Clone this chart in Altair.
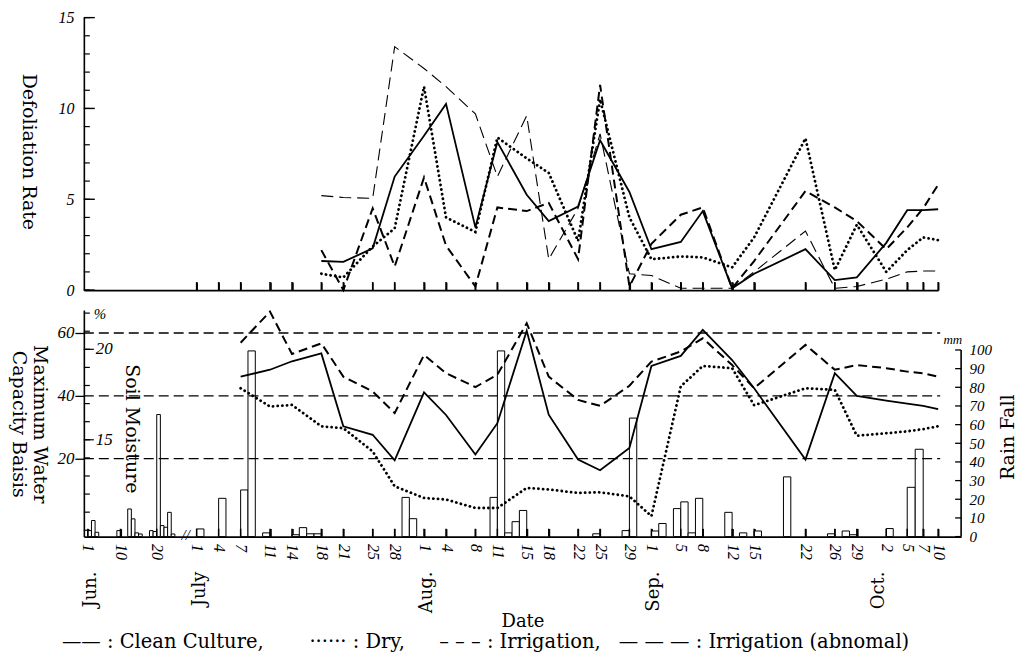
import altair as alt
import pandas as pd

YEAR = 1951

# ---------------- data ----------------
SERIES = ["Clean Culture", "Dry", "Irrigation", "Irrigation (abnomal)"]

# Defoliation rate
TOP_DATES = ["7/18", "7/21", "7/25", "7/28", "8/1", "8/4", "8/8", "8/11", "8/15", "8/18",
             "8/22", "8/25", "8/29", "9/1", "9/5", "9/8", "9/12", "9/15", "9/22", "9/26",
             "9/29", "10/2", "10/5", "10/7", "10/10"]
DEF_CLEAN = [1.6, 1.55, 2.3, 6.25, 8.5, 10.25, 3.45, 8.15, 5.25, 3.8, 4.6, 8.25, 5.4,
             2.25, 2.65, 4.35, 0.1, 0.9, 2.25, 0.55, 0.7, 2.6, 4.4, 4.4, 4.45]
DEF_DRY = [0.9, 0.7, 2.4, 3.4, 11.2, 4.0, 3.2, 8.4, 7.25, 6.45, 2.7, 10.5, 4.0,
           1.7, 1.85, 1.8, 1.25, 2.9, 8.35, 1.1, 3.6, 1.0, 2.2, 2.9, 2.75]
DEF_IRR = [2.2, 0.0, 4.5, 1.3, 6.2, 2.45, 0.2, 4.55, 4.35, 4.8, 1.7, 11.3, 0.2,
           2.55, 4.15, 4.55, 0.1, 1.6, 5.45, 4.55, 3.8, 2.25, 3.45, 4.5, 5.8]
DEF_ABN = [5.2, 5.1, 5.05, 13.4, 12.2, 11.2, 9.7, 6.25, 9.6, 1.7, 4.5, 8.6, 0.9,
           0.8, 0.1, 0.1, 0.1, 1.0, 3.25, 0.1, 0.2, 0.6, 1.0, 1.05, 1.05]

# Soil moisture (maximum water capacity basis, %)
SM_DATES = ["7/7", "7/11", "7/14", "7/18", "7/21", "7/25", "7/28", "8/1", "8/4", "8/8",
            "8/11", "8/15", "8/18", "8/22", "8/25", "8/29", "9/1", "9/5", "9/8", "9/12",
            "9/15", "9/22", "9/26", "9/29", "10/2", "10/5", "10/7", "10/10"]
SM_CLEAN = [46.1, 48.3, 51.0, 53.5, 30.3, 27.6, 19.5, 41.1, 33.9, 21.3, 31.3, 60.7, 34.0,
            19.7, 16.3, 23.4, 49.5, 52.7, 61.0, 51.4, 42.4, 19.7, 47.2, 40.0, 38.5, 37.5,
            36.8, 35.8]
SM_DRY = [42.4, 36.6, 37.1, 30.3, 29.7, 22.3, 11.2, 7.5, 7.0, 4.3, 4.3, 10.7, 10.2,
          9.1, 9.3, 8.0, 1.7, 43.0, 49.5, 48.8, 37.0, 42.4, 41.9, 27.3, 28.1, 28.7,
          29.4, 30.3]
SM_IRR = [56.9, 66.8, 53.3, 56.7, 46.1, 41.4, 34.5, 53.0, 47.2, 42.8, 46.7, 63.1, 46.1,
          38.7, 36.8, 43.2, 50.9, 54.1, 58.3, 49.8, 42.4, 56.2, 48.3, 49.8, 48.8, 47.7,
          47.2, 46.1]

# Daily rain fall (mm)
RAIN_DATES = ["6/1", "6/2", "6/3", "6/9", "6/12", "6/13", "6/14", "6/15", "6/18", "6/19",
              "6/20", "6/21", "6/22", "6/23", "6/24", "7/1", "7/4", "7/7", "7/8", "7/10",
              "7/14", "7/15", "7/16", "7/17", "7/29", "7/30", "8/10", "8/11", "8/12", "8/13",
              "8/14", "8/24", "8/28", "8/29", "9/1", "9/2", "9/4", "9/5", "9/6", "9/7",
              "9/11", "9/13", "9/15", "9/19", "9/25", "9/27", "9/28", "10/2", "10/5", "10/6"]
RAIN_MM = [3.2, 8.6, 2.3, 3.2, 14.8, 9.5, 2.0, 1.4, 3.2, 2.7,
           65.4, 5.9, 5.0, 13.0, 1.4, 4.1, 20.5, 25.0, 99.5, 2.0,
           1.0, 4.8, 1.5, 1.5, 21.0, 9.6, 21.0, 99.5, 2.0, 8.0,
           14.0, 1.5, 3.2, 63.5, 3.0, 7.0, 15.0, 18.6, 2.0, 20.5,
           13.0, 2.0, 3.0, 32.0, 1.5, 3.0, 1.0, 4.3, 26.4, 46.8]

# Axis texts
AXIS_DATES = ["6/1", "6/10", "6/20", "7/1", "7/4", "7/7", "7/11", "7/14", "7/18", "7/21",
              "7/25", "7/28", "8/1", "8/4", "8/8", "8/11", "8/15", "8/18", "8/22", "8/25",
              "8/29", "9/1", "9/5", "9/8", "9/12", "9/15", "9/22", "9/26", "9/29", "10/2",
              "10/5", "10/7", "10/10"]
TOP_TICK_DATES = AXIS_DATES[3:]
MONTHS = ["Jun.", "July", "Aug.", "Sep.", "Oct."]
MONTH_DATES = ["6/1", "7/1", "8/1", "9/1", "10/1"]
BREAK_DATE = ["6/28"]
REF_PCT = [20, 40, 60]
PCT_LABELS = [20, 40, 60]
TOP_LABELS = [0, 5, 10, 15]
TOP_MINOR = list(range(0, 16))
INNER_MINOR = list(range(10, 23))
INNER_LABELS = [15, 20]
RAIN_TICKS = [0, 10, 20, 30, 40, 50, 60, 70, 80, 90, 100]
LEGEND = ["\u2014\u2014 : Clean Culture,", "\u00b7\u00b7\u00b7\u00b7\u00b7\u00b7 : Dry,",
          "\u2013 \u2013 \u2013 : Irrigation,", "\u2014 \u2014 \u2014 : Irrigation (abnomal)"]

# ---------------- layout / style ----------------
W_TOP, W_BOT, H_TOP, H_BOT = 856, 879, 273, 227
X_DOMAIN_DAYS = [150.9, 182, 272, 275, 278, 280, 283, 286.1]   # hand-drawn date axis
X_RANGE_PX = [0, 113, 774.5, 804, 825, 841, 856, 879]
PCT_DOMAIN = [-4.8, 67.3]
INNER_DOMAIN = [9.65, 22.17]
RAIN_DOMAIN = [0, 121.4]
TICK_UP_TOP = 0.44      # length of the upward date ticks, in axis units
TICK_UP_PCT = 2.5
LEGEND_X = [-22, 226, 356, 536]
NUM_FONT = "Liberation Serif"
TEXT_FONT = "DejaVu Serif"

STYLE = {
    "Clean Culture": dict(color="black", strokeWidth=1.8),
    "Dry": dict(color="black", strokeWidth=2.8, strokeDash=[0.1, 4.6], strokeCap="round"),
    "Irrigation": dict(color="black", strokeWidth=2.0, strokeDash=[9, 5]),
    "Irrigation (abnomal)": dict(color="black", strokeWidth=1.1, strokeDash=[12, 6]),
}


def days(dates):
    out = []
    for s in dates:
        m, d = s.split("/")
        out.append(pd.Timestamp(YEAR, int(m), int(d)).dayofyear)
    return out


def long_df(dates, arrays, names):
    frames = [pd.DataFrame({"day": days(dates), "value": vals, "series": n})
              for n, vals in zip(names, arrays)]
    return pd.concat(frames, ignore_index=True)


top_df = long_df(TOP_DATES, [DEF_CLEAN, DEF_DRY, DEF_IRR, DEF_ABN], SERIES)
sm_df = long_df(SM_DATES, [SM_CLEAN, SM_DRY, SM_IRR], SERIES[:3])
rain_df = pd.DataFrame({"day": days(RAIN_DATES), "mm": RAIN_MM})

xs_top = alt.Scale(domain=X_DOMAIN_DAYS[:-1], range=X_RANGE_PX[:-1], nice=False, zero=False)
xs_bot = alt.Scale(domain=X_DOMAIN_DAYS, range=X_RANGE_PX, nice=False, zero=False)
ys_top = alt.Scale(domain=[0, 15], nice=False)
ys_pct = alt.Scale(domain=PCT_DOMAIN, nice=False, zero=False)
ys_inner = alt.Scale(domain=INNER_DOMAIN, nice=False, zero=False)
ys_rain = alt.Scale(domain=RAIN_DOMAIN, nice=False)

# ---------------- axes (the same object on every layer sharing a scale) ----------------
top_x_axis = alt.Axis(orient="top", offset=-H_TOP, values=days(TOP_TICK_DATES), labels=False,
                      ticks=True, tickSize=8, tickWidth=1.6, tickColor="black",
                      domain=True, domainColor="black", domainWidth=1.6, title=None, grid=False)
top_y_axis = alt.Axis(values=TOP_LABELS, ticks=False, labelPadding=10, labelFont=NUM_FONT,
                      labelFontStyle="italic", labelFontSize=16, labelColor="black",
                      domainColor="black", domainWidth=1.6, grid=False,
                      title="Defoliation Rate", titleFont=TEXT_FONT, titleFontSize=19,
                      titleFontWeight="normal", titleColor="black", titleAngle=90,
                      titleX=-55, titleY=134, titleAlign="center", titleBaseline="middle")
bot_x_axis = alt.Axis(values=days(AXIS_DATES), labelExpr=f"date(datetime({YEAR}, 0, datum.value))",
                      labelAngle=90, labelAlign="left", labelBaseline="middle", labelFont=NUM_FONT,
                      labelFontStyle="italic", labelFontSize=16, labelColor="black", labelPadding=7,
                      labelOverlap=False, labelFlush=False, labelBound=False, ticks=False,
                      domain=True, domainColor="black", domainWidth=1.6, grid=False,
                      title="Date", titleFont=TEXT_FONT, titleFontSize=18, titleFontWeight="normal",
                      titleColor="black", titleY=85, titleBaseline="middle")
bot_tick_axis = alt.Axis(orient="top", offset=-H_BOT, values=days(AXIS_DATES), labels=False,
                         ticks=True, tickSize=8, tickWidth=1.6, tickColor="black",
                         domain=False, title=None, grid=False)
pct_axis = alt.Axis(values=PCT_LABELS, tickSize=9, tickColor="black", tickWidth=1.3, labelPadding=1,
                    labelFont=NUM_FONT, labelFontStyle="italic", labelFontSize=17, labelColor="black",
                    domainColor="black", domainWidth=1.6, grid=False,
                    title=["Maximum Water", "Capacity Baisis"], titleFont=TEXT_FONT, titleFontSize=19,
                    titleFontWeight="normal", titleColor="black", titleAngle=90, titleX=-44,
                    titleY=114, titleAlign="center", titleBaseline="middle", titleLineHeight=21)
rain_axis = alt.Axis(orient="right", values=RAIN_TICKS, ticks=False, domain=False, grid=False,
                     labelPadding=8, labelFont=NUM_FONT, labelFontStyle="italic",
                     labelFontSize=15, labelColor="black",
                     title="Rain Fall", titleFont=TEXT_FONT, titleFontSize=19,
                     titleFontWeight="normal", titleColor="black", titleAngle=270,
                     titleX=46, titleY=127, titleAlign="center", titleBaseline="middle")


def X(scale, axis):
    return alt.X("day:Q", scale=scale, axis=axis)


def Y(field, scale, axis):
    return alt.Y(field, scale=scale, axis=axis)


# ---------------- top panel ----------------
top_layers = []
for name in ["Irrigation (abnomal)", "Irrigation", "Dry", "Clean Culture"]:
    top_layers.append(
        alt.Chart(top_df).transform_filter(alt.datum.series == name)
        .mark_line(**STYLE[name])
        .encode(x=X(xs_top, top_x_axis), y=Y("value:Q", ys_top, top_y_axis))
    )

top_minor = alt.Chart(pd.DataFrame({"value": TOP_MINOR})).mark_rule(color="black", strokeWidth=1.2).encode(
    y=Y("value:Q", ys_top, top_y_axis), x=alt.value(0), x2=alt.value(6))
top_major = alt.Chart(pd.DataFrame({"value": TOP_LABELS})).mark_rule(color="black", strokeWidth=1.4).encode(
    y=Y("value:Q", ys_top, top_y_axis), x=alt.value(0), x2=alt.value(11))
top_xt = alt.Chart(pd.DataFrame({"day": days(TOP_TICK_DATES)})).mark_rule(
    color="black", strokeWidth=1.5).encode(
    x=X(xs_top, top_x_axis),
    y=alt.YDatum(0, scale=ys_top, axis=top_y_axis),
    y2=alt.Y2Datum(TICK_UP_TOP))

top = alt.layer(*top_layers, top_minor, top_major, top_xt).properties(width=W_TOP, height=H_TOP)

# ---------------- bottom panel ----------------
bars = alt.Chart(rain_df).transform_calculate(day_end="datum.day + 1").mark_bar(
    fill="white", stroke="black", strokeWidth=1.0).encode(
    x=X(xs_bot, None), x2="day_end:Q",
    y=Y("mm:Q", ys_rain, rain_axis), y2=alt.datum(0))
rain_t = alt.Chart(pd.DataFrame({"mm": RAIN_TICKS})).mark_rule(color="black", strokeWidth=1.3).encode(
    y=Y("mm:Q", ys_rain, rain_axis), x=alt.value(W_BOT - 6), x2=alt.value(W_BOT))
rain_line = alt.Chart(pd.DataFrame({"mm": [RAIN_TICKS[0]], "hi": [RAIN_TICKS[-1]]})).mark_rule(
    color="black", strokeWidth=1.6).encode(
    y=Y("mm:Q", ys_rain, rain_axis), y2="hi:Q", x=alt.value(W_BOT))
mm_text = alt.Chart(pd.DataFrame({"t": ["mm"]})).mark_text(
    font=NUM_FONT, fontStyle="italic", fontSize=13, align="right", baseline="middle").encode(
    text="t:N", x=alt.value(W_BOT + 1), y=alt.value(30))
rain_layer = alt.layer(bars, rain_t, rain_line, mm_text)

refs = alt.Chart(pd.DataFrame({"value": REF_PCT})).mark_rule(
    color="black", strokeWidth=1.3, strokeDash=[10, 5]).encode(
    y=Y("value:Q", ys_pct, pct_axis), x=alt.value(0), x2=alt.value(858))

sm_layers = []
for name in ["Irrigation", "Dry", "Clean Culture"]:
    sm_layers.append(
        alt.Chart(sm_df).transform_filter(alt.datum.series == name)
        .mark_line(**STYLE[name])
        .encode(x=X(xs_bot, bot_x_axis), y=Y("value:Q", ys_pct, pct_axis))
    )

bot_xt = alt.Chart(pd.DataFrame({"day": days(AXIS_DATES)})).mark_rule(
    color="black", strokeWidth=1.5).encode(
    x=X(xs_bot, bot_x_axis),
    y=alt.YDatum(PCT_DOMAIN[0], scale=ys_pct, axis=pct_axis),
    y2=alt.Y2Datum(PCT_DOMAIN[0] + TICK_UP_PCT))
months = alt.Chart(pd.DataFrame({"day": days(MONTH_DATES), "m": MONTHS})).mark_text(
    font=TEXT_FONT, fontSize=18, angle=270, align="right", baseline="middle", dy=3).encode(
    x=X(xs_bot, bot_x_axis), y=alt.value(H_BOT + 35), text="m:N")
brk = alt.Chart(pd.DataFrame({"day": days(BREAK_DATE), "t": ["//"]})).mark_text(
    font=NUM_FONT, fontStyle="italic", fontSize=15, baseline="middle").encode(
    x=X(xs_bot, bot_x_axis), y=alt.value(H_BOT - 2), text="t:N")
pct_sign = alt.Chart(pd.DataFrame({"t": ["%"]})).mark_text(
    font=NUM_FONT, fontStyle="italic", fontSize=15, align="left", baseline="middle").encode(
    text="t:N", x=alt.value(10), y=alt.value(4))
soil = alt.Chart(pd.DataFrame({"t": ["Soil Moisture"]})).mark_text(
    font=TEXT_FONT, fontSize=19, angle=90, align="center", baseline="middle").encode(
    text="t:N", x=alt.value(48), y=alt.value(119))
legend_layers = [
    alt.Chart(pd.DataFrame({"t": [txt]})).mark_text(
        font=TEXT_FONT, fontSize=19.5, align="left", baseline="middle").encode(
        text="t:N", x=alt.value(lx), y=alt.value(H_BOT + 106))
    for txt, lx in zip(LEGEND, LEGEND_X)
]
pct_layer = alt.layer(refs, *sm_layers, bot_xt, months, brk, pct_sign, soil, *legend_layers)

inner_minor = alt.Chart(pd.DataFrame({"v": INNER_MINOR})).mark_rule(color="black", strokeWidth=1.2).encode(
    y=alt.Y("v:Q", scale=ys_inner, axis=None), x=alt.value(0), x2=alt.value(6))
inner_major = alt.Chart(pd.DataFrame({"v": INNER_LABELS})).mark_rule(color="black", strokeWidth=1.2).encode(
    y=alt.Y("v:Q", scale=ys_inner, axis=None), x=alt.value(0), x2=alt.value(10))
inner_text = alt.Chart(pd.DataFrame({"v": INNER_LABELS})).mark_text(
    font=NUM_FONT, fontStyle="italic", fontSize=17, align="left", baseline="middle").encode(
    y=alt.Y("v:Q", scale=ys_inner, axis=None), x=alt.value(12), text="v:Q")
tick_carrier = alt.Chart(pd.DataFrame({"day": days(AXIS_DATES)})).mark_point(opacity=0).encode(
    x=X(xs_bot, bot_tick_axis), y=alt.value(H_BOT))
inner_layer = alt.layer(inner_minor, inner_major, inner_text, tick_carrier)

bottom = alt.layer(rain_layer, pct_layer, inner_layer).resolve_scale(y="independent").resolve_axis(
    x="independent").properties(width=W_BOT, height=H_BOT)

chart = alt.vconcat(top, bottom, spacing=7).properties(
    padding={"left": 0, "top": 0, "right": 0, "bottom": 0}).configure_view(
    stroke="transparent").configure_axis(grid=False)

chart.save("out.html", embed_options={"renderer": "svg", "actions": False})
